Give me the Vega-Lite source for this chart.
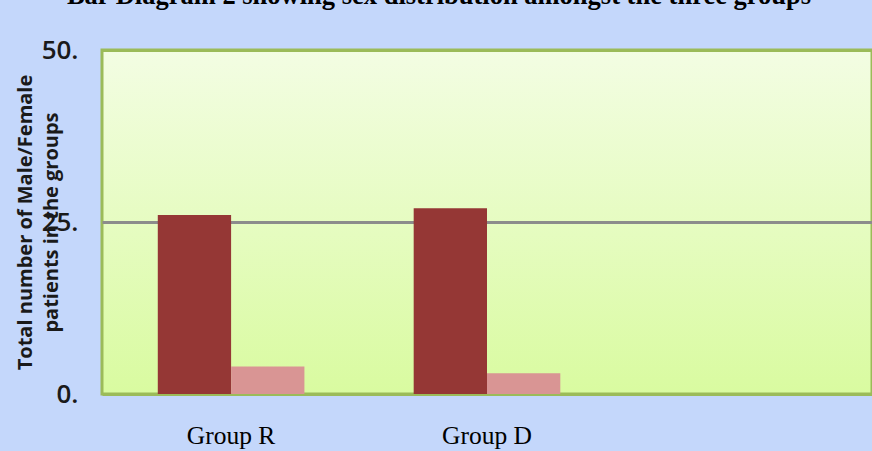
{
  "$schema": "https://vega.github.io/schema/vega-lite/v6.json",
  "autosize": {"type": "none"},
  "width": 770,
  "height": 344,
  "padding": {"left": 102, "top": 50, "right": 0, "bottom": 57},
  "background": "#c4d7fb",
  "title": {
    "text": "Bar Diagram 2 showing sex distribution amongst the three groups",
    "font": "Liberation Serif",
    "fontSize": 26.5,
    "fontWeight": "bold",
    "color": "#000000",
    "anchor": "middle",
    "frame": "group",
    "dx": -48,
    "baseline": "alphabetic",
    "offset": 7
  },
  "data": {
    "values": [
      {"group": "Group R", "sex": "Male", "count": 26},
      {"group": "Group R", "sex": "Female", "count": 4},
      {"group": "Group D", "sex": "Male", "count": 27},
      {"group": "Group D", "sex": "Female", "count": 3}
    ]
  },
  "mark": {"type": "bar"},
  "encoding": {
    "x": {
      "field": "group",
      "type": "nominal",
      "sort": null,
      "scale": {"domain": ["Group R", "Group D", "Group X"], "paddingInner": 0.427, "paddingOuter": 0.218},
      "axis": {
        "title": null,
        "labelAngle": 0,
        "labelExpr": "datum.value == 'Group X' ? '' : datum.value",
        "labelFont": "Liberation Serif",
        "labelFontSize": 25.5,
        "labelColor": "#000000",
        "labelPadding": 29,
        "domain": false,
        "ticks": false,
        "grid": false
      }
    },
    "xOffset": {
      "field": "sex",
      "type": "nominal",
      "scale": {"domain": ["Male", "Female"], "paddingInner": 0, "paddingOuter": 0}
    },
    "y": {
      "field": "count",
      "type": "quantitative",
      "scale": {"domain": [0, 50], "nice": false},
      "axis": {
        "values": [0, 25, 50],
        "labelExpr": "datum.value + '.'",
        "labelFont": "Open Sans",
        "labelFontSize": 26,
        "labelFontWeight": 600,
        "labelColor": "#1a1a1a",
        "labelPadding": 24,
        "domain": false,
        "ticks": false,
        "grid": true,
        "gridColor": {"condition": {"test": "datum.value == 25", "value": "#8c8c8c"}, "value": "#9bbb59"},
        "gridWidth": 3,
        "title": ["Total number of Male/Female", "patients in the groups"],
        "titleFont": "Open Sans",
        "titleFontSize": 20,
        "titleFontWeight": "bold",
        "titleColor": "#1a1a1a",
        "titleLineHeight": 26,
        "titleBaseline": "middle",
        "titleAlign": "center",
        "titleX": -77,
        "titleY": 172
      }
    },
    "color": {
      "field": "sex",
      "type": "nominal",
      "scale": {"domain": ["Male", "Female"], "range": ["#953735", "#d99594"]},
      "legend": null
    }
  },
  "config": {
    "view": {
      "stroke": "#9bbb59",
      "strokeWidth": 3,
      "fill": {
        "gradient": "linear",
        "x1": 0, "y1": 0, "x2": 0, "y2": 1,
        "stops": [
          {"offset": 0, "color": "#f3fde3"},
          {"offset": 1, "color": "#d9fba0"}
        ]
      }
    }
  }
}
